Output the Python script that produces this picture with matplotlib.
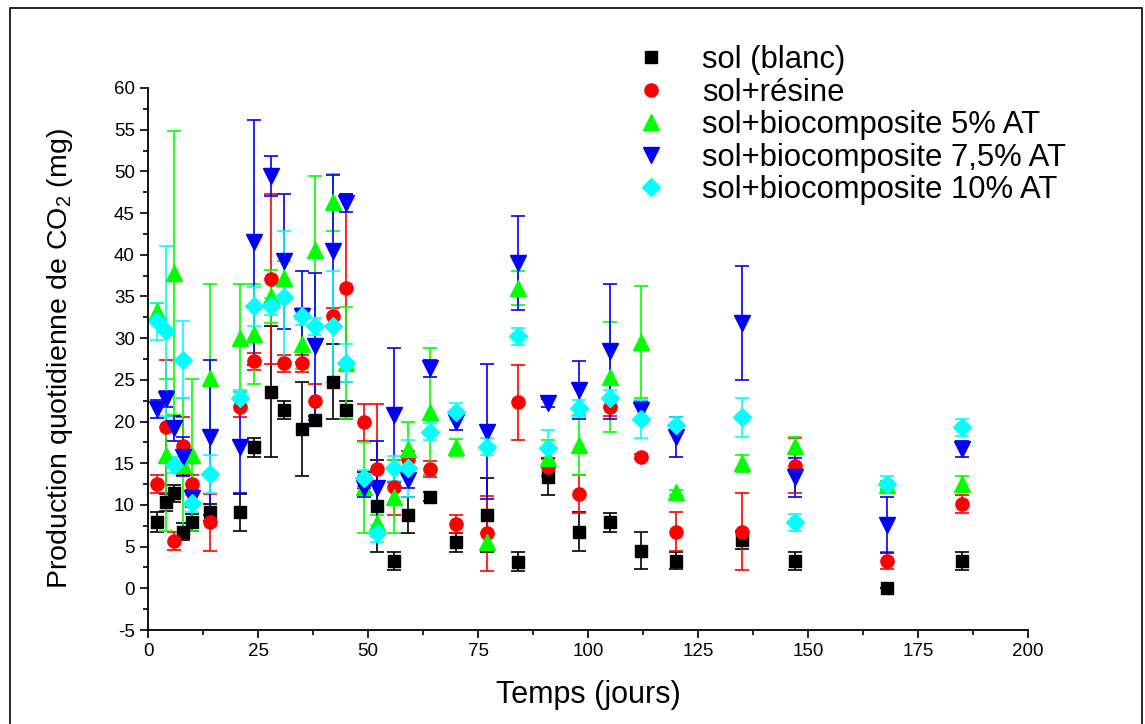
import numpy as np
import matplotlib
matplotlib.use("Agg")
import matplotlib.pyplot as plt
from matplotlib.patches import Rectangle
from matplotlib.lines import Line2D
from matplotlib.ticker import MultipleLocator

plt.rcParams['font.family'] = ['Liberation Sans', 'DejaVu Sans']
plt.rcParams['mathtext.fontset'] = 'custom'
plt.rcParams['mathtext.rm'] = 'Liberation Sans'
plt.rcParams['axes.unicode_minus'] = False

# jours de mesure
days = [2, 4, 6, 8, 10, 14, 21, 24, 28, 31, 35, 38, 42, 45, 49, 52, 56, 59, 64,
        70, 77, 84, 91, 98, 105, 112, 120, 135, 147, 168, 185]

# sol (blanc)
blanc = [8.0, 10.3, 11.4, 6.8, 7.9, 9.1, 9.1, 16.9, 23.6, 21.4, 19.1, 20.2, 24.8, 21.4, 13.0,
         9.9, 3.3, 8.8, 11.0, 5.5, 8.8, 3.2, 13.4, 6.8, 7.9, 4.5, 3.3, 5.8, 3.3, 0.0, 3.3]
blanc_err = [1.2, 1.0, 1.0, 1.0, 1.0, 1.0, 2.2, 1.1, 7.9, 1.1, 5.6, 0.5, 4.5, 1.1, 1.0,
             5.5, 1.1, 2.2, 0.5, 1.1, 4.4, 1.1, 2.2, 2.3, 1.1, 2.2, 1.0, 1.1, 1.1, 0.0, 1.1]

# sol+résine
resine = [12.5, 19.4, 5.7, 17.1, 12.5, 7.9, 21.7, 27.2, 37.1, 27.0, 27.0, 22.5, 32.6, 36.0, 19.9,
          14.3, 12.1, 15.5, 14.3, 7.7, 6.6, 22.3, 14.5, 11.3, 21.7, 15.8, 6.8, 6.8, 14.7, 3.3, 10.1]
resine_err = [1.1, 8.0, 1.1, 3.5, 1.1, 3.4, 1.1, 1.0, 10.2, 1.0, 1.0, 2.0, 1.0, 11.3, 2.2,
              7.8, 3.3, 1.0, 1.0, 1.1, 4.5, 4.5, 1.0, 2.3, 1.0, 0.3, 2.3, 4.6, 3.3, 1.0, 1.1]

# sol+biocomposite 5% AT
bio5 = [33.2, 16.0, 37.8, 14.8, 16.0, 25.2, 30.0, 30.5, 35.0, 37.2, 29.3, 40.6, 46.3, 27.0, 12.1,
        7.8, 11.0, 16.7, 21.2, 16.9, 5.6, 36.0, 15.6, 17.2, 25.3, 29.5, 11.5, 15.0, 17.1, 12.4, 12.5]
bio5_err = [1.0, 9.1, 17.0, 8.0, 9.1, 11.3, 6.5, 6.0, 3.2, 2.0, 3.0, 8.9, 3.4, 6.7, 5.5,
            1.0, 4.4, 3.2, 7.6, 1.0, 1.0, 2.0, 2.2, 3.6, 6.6, 6.7, 0.3, 1.0, 1.0, 0.5, 1.0]

# sol+biocomposite 7,5% AT
bio75 = [21.5, 22.7, 19.2, 15.8, 10.8, 18.1, 17.0, 41.5, 49.4, 39.2, 32.6, 29.0, 40.4, 46.2, 12.0,
         12.0, 20.8, 13.0, 26.4, 20.0, 18.8, 39.0, 22.2, 23.8, 28.4, 21.4, 18.2, 31.8, 13.3, 7.6, 16.7]
bio75_err = [1.1, 1.0, 1.5, 2.3, 1.0, 9.3, 5.6, 14.7, 2.4, 8.1, 5.5, 8.8, 9.2, 1.1, 1.0,
             5.7, 8.0, 1.0, 1.0, 1.0, 8.1, 5.6, 0.5, 3.5, 8.1, 1.1, 2.4, 6.8, 2.3, 3.4, 1.0]

# sol+biocomposite 10% AT
bio10 = [32.0, 30.9, 14.8, 27.4, 10.2, 13.7, 22.8, 33.8, 33.8, 34.9, 32.6, 31.4, 31.4, 27.0, 13.2,
         6.6, 14.4, 14.4, 18.8, 21.2, 17.0, 30.2, 16.8, 21.6, 22.8, 20.3, 19.6, 20.5, 7.9, 12.5, 19.3]
bio10_err = [2.2, 10.2, 1.0, 4.6, 1.0, 2.3, 1.0, 2.3, 1.0, 7.9, 1.0, 1.0, 6.6, 2.3, 1.0,
             1.0, 1.5, 3.4, 1.0, 1.0, 1.0, 1.0, 2.2, 1.0, 1.0, 2.3, 1.0, 2.3, 1.0, 1.0, 1.0]

labels = ['sol (blanc)', 'sol+résine', 'sol+biocomposite 5% AT',
          'sol+biocomposite 7,5% AT', 'sol+biocomposite 10% AT']

fig = plt.figure(figsize=(11.45, 7.24), dpi=100)
ax = fig.add_axes([0.1293, 0.1298, 0.7685, 0.7487])

series = [
    (blanc, blanc_err, 'black', 's', 8.5),
    (resine, resine_err, 'red', 'o', 9.5),
    (bio5, bio5_err, '#00ff00', '^', 11),
    (bio75, bio75_err, '#0000ff', 'v', 11),
    (bio10, bio10_err, '#00ffff', 'D', 9),
]
handles = []
for (vals, err, col, mk, ms), lab in zip(series, labels):
    ax.errorbar(days, vals, yerr=err, fmt=mk, color=col, ecolor=col, ms=ms,
                mec=col, elinewidth=1.2, capsize=5, capthick=1.2, clip_on=False)
    handles.append(Line2D([], [], ls='none', marker=mk, color=col, mec=col, ms=ms, label=lab))

ax.set_xlim(0, 200)
ax.set_ylim(-5, 60)
ax.xaxis.set_major_locator(MultipleLocator(25))
ax.xaxis.set_minor_locator(MultipleLocator(12.5))
ax.yaxis.set_major_locator(MultipleLocator(5))
ax.yaxis.set_minor_locator(MultipleLocator(2.5))
ax.tick_params(which='major', direction='out', length=6, width=1.2, labelsize=13.5)
ax.tick_params(which='minor', direction='out', length=3.5, width=1.2)
ax.spines['top'].set_visible(False)
ax.spines['right'].set_visible(False)
ax.spines['left'].set_linewidth(1.3)
ax.spines['bottom'].set_linewidth(1.3)

ax.set_xlabel('Temps (jours)', fontsize=22, labelpad=14)
ax.set_ylabel('Production quotidienne de CO$_2$ (mg)', fontsize=20.5, labelpad=28)

ax.legend(handles=handles, loc='upper left', bbox_to_anchor=(0.5345, 0.959),
          bbox_transform=fig.transFigure, frameon=False, fontsize=22.3,
          handletextpad=0.9, labelspacing=0.08, borderpad=0, handlelength=1.5)

# cadre autour de la figure
fig.add_artist(Rectangle((10 / 1145, -0.05), 1132 / 1145, 1 - 8 / 724 + 0.05,
                         transform=fig.transFigure, fill=False, lw=1.2, ec='black'))

fig.savefig('out.png', dpi=100)
